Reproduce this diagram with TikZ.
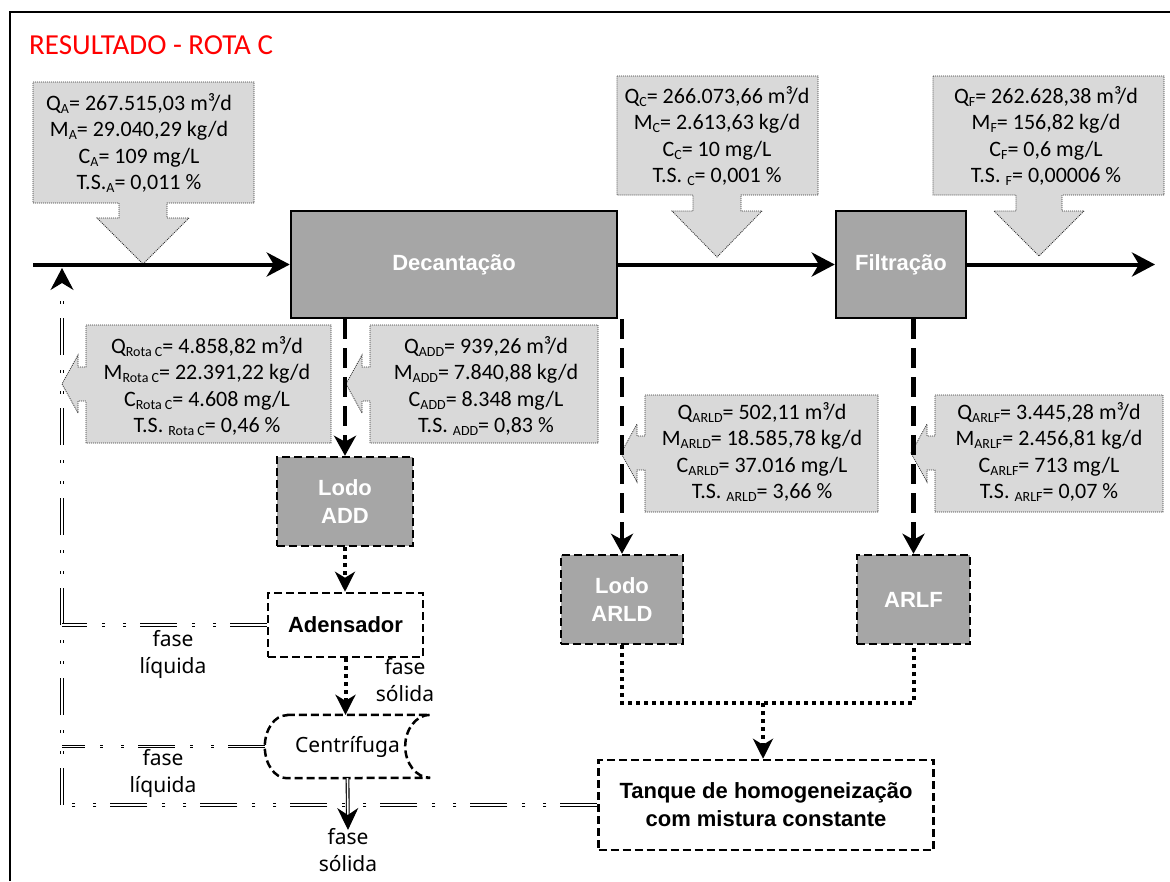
\documentclass[tikz,border=0pt]{standalone}
\usepackage{fontspec}
\setmainfont{Carlito}
\newfontfamily\arialfont{Liberation Sans}
\newfontfamily\segoefont{Noto Sans}
\usepackage{xcolor}
\usetikzlibrary{arrows.meta}
\definecolor{unitgray}{HTML}{A6A6A6}
\definecolor{calloutgray}{HTML}{D9D9D9}
\newcommand{\lowidx}[1]{\raisebox{-0.3ex}{\fontsize{14}{14}\selectfont #1}}

\begin{document}
\begin{tikzpicture}[x=1pt,y=-1pt,
    unit/.style={draw=black, line width=2.5pt, fill=unitgray, text=white, inner sep=0pt,
        font=\arialfont\bfseries\fontsize{22}{28}\selectfont, align=center},
    dashunit/.style={unit, dash pattern=on 8pt off 4pt},
    openunit/.style={dashunit, fill=white, text=black},
    capsule/.style={draw=black, line width=2.5pt, dash pattern=on 8pt off 4pt},
    callout/.style={fill=calloutgray, draw=black!80, line width=0.8pt, dash pattern=on 1pt off 1pt},
    data/.style={align=center, font=\fontsize{22}{26.5}\selectfont, inner sep=0pt},
    phase/.style={align=center, font=\segoefont\fontsize{21}{27}\selectfont, inner sep=0pt},
    mainflow/.style={line width=4pt, -{Stealth[length=23pt,width=24pt,inset=7pt]}},
    sludge/.style={line width=4.5pt, dash pattern=on 20pt off 9pt, -{Stealth[length=20pt,width=22pt,inset=6pt]}},
    dotline/.style={line width=4pt, dash pattern=on 4pt off 4pt},
    dotflow/.style={dotline, -{Stealth[length=20pt,width=20pt,inset=6pt]}},
    retline/.style={double, double distance=1.6pt, line width=1.1pt,
        dash pattern=on 37pt off 14pt on 3pt off 18pt on 3pt off 15pt},
    retflow/.style={retline, -{Stealth[length=22pt,width=23pt,inset=7pt]}},
    solidout/.style={double, double distance=1.6pt, line width=1.1pt, -{Stealth[length=22pt,width=21pt,inset=7pt]}},
  ]
    \useasboundingbox (0,0) rectangle (1170,881);
    \draw[line width=1.5pt] (10,881) -- (10,12) -- (1170,12);
    \node[anchor=west, text=red, font=\fontsize{29}{29}\selectfont, inner sep=0pt] (title) at (29,45) {RESULTADO - ROTA C};

    % data callouts
    \draw[callout] (33,82) -- (254,82) -- (254,203) -- (167,203) -- (167,218) -- (189,218) -- (143,264)
        -- (97,218) -- (119,218) -- (119,203) -- (33,203) -- cycle;
    \draw[callout] (617,76) -- (818,76) -- (818,195) -- (741,195) -- (741,211) -- (762,211) -- (717,257)
        -- (672,211) -- (693,211) -- (693,195) -- (617,195) -- cycle;
    \draw[callout] (933,76) -- (1164,76) -- (1164,195) -- (1062,195) -- (1062,211) -- (1084,211) -- (1039,256)
        -- (994,211) -- (1016,211) -- (1016,195) -- (933,195) -- cycle;
    \draw[callout] (86,325) -- (331,325) -- (331,443) -- (86,443) -- (86,401) -- (78,401) -- (78,413)
        -- (62,384) -- (78,355) -- (78,367) -- (86,367) -- cycle;
    \draw[callout] (370,325) -- (598,325) -- (598,443) -- (370,443) -- (370,401) -- (362,401) -- (362,413)
        -- (346,384) -- (362,355) -- (362,367) -- (370,367) -- cycle;
    \draw[callout] (645,395) -- (878,395) -- (878,512) -- (645,512) -- (645,470) -- (637,470) -- (637,482)
        -- (621,453) -- (637,424) -- (637,436) -- (645,436) -- cycle;
    \draw[callout] (935,395) -- (1163,395) -- (1163,512) -- (935,512) -- (935,470) -- (927,470) -- (927,482)
        -- (911,453) -- (927,424) -- (927,436) -- (935,436) -- cycle;

    \node[data] (dataA) at (139,143) {Q\lowidx{A}= 267.515,03 m³/d\\ M\lowidx{A}= 29.040,29 kg/d\\
        C\lowidx{A}= 109 mg/L\\ T.S.\lowidx{A}= 0,011 \%};
    \node[data] (dataC) at (717,136) {Q\lowidx{C}= 266.073,66 m³/d\\ M\lowidx{C}= 2.613,63 kg/d\\
        C\lowidx{C}= 10 mg/L\\ T.S. \lowidx{C}= 0,001 \%};
    \node[data] (dataF) at (1046,136) {Q\lowidx{F}= 262.628,38 m³/d\\ M\lowidx{F}= 156,82 kg/d\\
        C\lowidx{F}= 0,6 mg/L\\ T.S. \lowidx{F}= 0,00006 \%};
    \node[data] (dataR) at (207,386) {Q\lowidx{Rota C}= 4.858,82 m³/d\\ M\lowidx{Rota C}= 22.391,22 kg/d\\
        C\lowidx{Rota C}= 4.608 mg/L\\ T.S. \lowidx{Rota C}= 0,46 \%};
    \node[data] (dataADD) at (486,386) {Q\lowidx{ADD}= 939,26 m³/d\\ M\lowidx{ADD}= 7.840,88 kg/d\\
        C\lowidx{ADD}= 8.348 mg/L\\ T.S. \lowidx{ADD}= 0,83 \%};
    \node[data] (dataARLD) at (762,452) {Q\lowidx{ARLD}= 502,11 m³/d\\ M\lowidx{ARLD}= 18.585,78 kg/d\\
        C\lowidx{ARLD}= 37.016 mg/L\\ T.S. \lowidx{ARLD}= 3,66 \%};
    \node[data] (dataARLF) at (1049,452) {Q\lowidx{ARLF}= 3.445,28 m³/d\\ M\lowidx{ARLF}= 2.456,81 kg/d\\
        C\lowidx{ARLF}= 713 mg/L\\ T.S. \lowidx{ARLF}= 0,07 \%};

    % process units
    \node[unit, minimum width=326pt, minimum height=107pt] (decant) at (454,264.5) {Decantação};
    \node[unit, minimum width=130pt, minimum height=107pt] (filtr) at (901,264.5) {Filtração};
    \node[dashunit, minimum width=136pt, minimum height=89pt] (lodoadd) at (345,501.5) {Lodo\\ADD};
    \node[openunit, minimum width=155pt, minimum height=64pt] (aden) at (345.5,625) {Adensador};
    \node[inner sep=0pt, minimum width=165pt, minimum height=63pt, font=\segoefont\fontsize{21}{27}\selectfont]
        (centr) at (347.5,746.5) {Centrífuga\hspace{25pt}};
    \node[dashunit, minimum width=122pt, minimum height=89pt] (lodoarld) at (622,599.5) {Lodo\\ARLD};
    \node[dashunit, minimum width=113pt, minimum height=89pt] (arlf) at (913.5,599.5) {ARLF};
    \node[openunit, minimum width=335pt, minimum height=90pt] (tanque) at (766,805)
        {Tanque de homogeneização\\com mistura constante};

    % centrifuge outline
    \draw[capsule] ([xshift=22pt]centr.north west) -- (centr.north east)
        arc[start angle=270, end angle=90, x radius=25, y radius=31.5]
        -- ([xshift=22pt]centr.south west)
        arc[start angle=90, end angle=270, x radius=22, y radius=31.5] -- cycle;

    % main line
    \coordinate (inlet) at (33,264.5);
    \coordinate (outlet) at (1155,264.5);
    \draw[mainflow] (inlet) -- (decant);
    \draw[mainflow] (decant) -- (filtr);
    \draw[mainflow] (filtr) -- (outlet);

    % sludge lines
    \draw[sludge] (decant.south -| lodoadd.north) -- (lodoadd.north);
    \draw[sludge] (decant.south -| lodoarld.north) -- (lodoarld.north);
    \draw[sludge] (filtr.south -| arlf.north) -- (arlf.north);
    \draw[dotflow] (lodoadd.south) -- (lodoadd.south |- aden.north);
    \draw[dotflow] (aden.south) -- (aden.south |- centr.north);
    \coordinate (mix) at (763,703);
    \draw[dotline] (lodoarld.south) |- (mix) -| (arlf.south);
    \draw[dotflow] (mix) -- (mix |- tanque.north);
    \coordinate (solidend) at (348,830);
    \draw[solidout] (centr.south) -- (solidend);

    % return to the inlet
    \coordinate (retbot) at (62,805);
    \coordinate (rettop) at (62,268);
    \draw[retflow] (retbot) -- (rettop);
    \draw[retline] (aden.west) -- (aden.west -| retbot);
    \draw[retline] (centr.west) -- (centr.west -| retbot);
    \draw[retline] (tanque.west) -- (tanque.west -| retbot);

    \node[phase] (liq1) at (173,654) {fase\\líquida};
    \node[phase] (sol1) at (405,680) {fase\\sólida};
    \node[phase] (liq2) at (163,773) {fase\\líquida};
    \node[phase] (sol2) at (348,850) {fase\\sólida};
\end{tikzpicture}
\end{document}
